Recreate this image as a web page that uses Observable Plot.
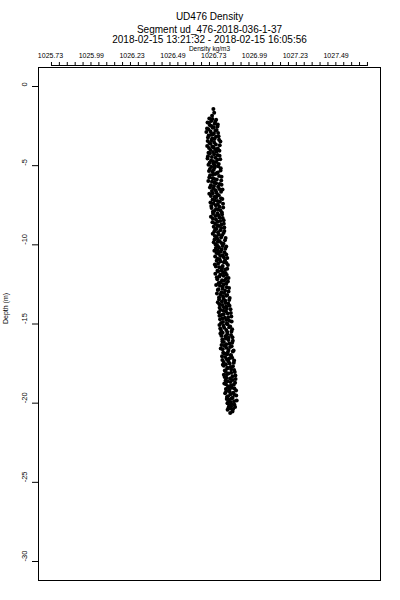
<!DOCTYPE html>
<html>
<head>
<meta charset="utf-8">
<script src="https://cdn.jsdelivr.net/npm/d3@7"></script>
<script src="https://cdn.jsdelivr.net/npm/@observablehq/plot@0.6"></script>
<style>
  html, body { margin: 0; padding: 0; background: #fff; }
  #chart svg { display: block; }
</style>
</head>
<body>
<div id="chart"></div>
<script>
const titleLines = ["UD476 Density", "Segment ud_476-2018-036-1-37", "2018-02-15 13:21:32 - 2018-02-15 16:05:56"];
const xAxisTitle = "Density kg/m3";
const yAxisTitle = "Depth (m)";

const xTickValues = [1025.735, 1025.985, 1026.235, 1026.485, 1026.735, 1026.985, 1027.235, 1027.485];
const xTickLabels = ["1025.73", "1025.99", "1026.23", "1026.49", "1026.73", "1026.99", "1027.23", "1027.49"];
const yTickValues = [0, -5, -10, -15, -20, -25, -30];

// first set of samples
const depth = [
  -1.42, -1.85, -2.02, -2.10, -2.18, -2.27, -2.35, -2.44, -2.53, -2.61, -2.70, -2.79, -2.88, -2.97,
  -3.05, -3.14, -3.22, -3.31, -3.40, -3.48, -3.57, -3.66, -3.75, -3.83, -3.92,
  -4.01, -4.10, -4.19, -4.28, -4.37, -4.45, -4.54, -4.63, -4.72, -4.81, -4.90, -4.98,
  -5.07, -5.16, -5.25, -5.34, -5.43, -5.52, -5.61, -5.70, -5.79, -5.88, -5.97,
  -6.06, -6.15, -6.24, -6.33, -6.42, -6.51, -6.60, -6.69, -6.78, -6.87, -6.96,
  -7.05, -7.14, -7.23, -7.32, -7.41, -7.50, -7.59, -7.68, -7.77, -7.86, -7.95,
  -8.04, -8.13, -8.22, -8.31, -8.40, -8.49, -8.58, -8.67, -8.76, -8.85, -8.94,
  -9.03, -9.12, -9.21, -9.30, -9.39, -9.48, -9.57, -9.66, -9.75, -9.84, -9.93,
  -10.02, -10.11, -10.20, -10.29, -10.38, -10.47, -10.56, -10.65, -10.74, -10.83, -10.92,
  -11.01, -11.10, -11.19, -11.28, -11.37, -11.46, -11.55, -11.64, -11.73, -11.82, -11.91,
  -12.00, -12.09, -12.18, -12.27, -12.36, -12.45, -12.54, -12.63, -12.72, -12.81, -12.90, -12.99,
  -13.08, -13.17, -13.26, -13.35, -13.44, -13.53, -13.62, -13.71, -13.80, -13.89, -13.98,
  -14.07, -14.16, -14.25, -14.34, -14.43, -14.52, -14.61, -14.70, -14.79, -14.88, -14.97,
  -15.06, -15.15, -15.24, -15.33, -15.42, -15.51, -15.60, -15.69, -15.78, -15.87, -15.96,
  -16.05, -16.14, -16.23, -16.32, -16.41, -16.50, -16.59, -16.68, -16.77, -16.86, -16.95,
  -17.04, -17.13, -17.22, -17.31, -17.40, -17.49, -17.58, -17.67, -17.76, -17.85, -17.94,
  -18.03, -18.12, -18.21, -18.30, -18.39, -18.48, -18.57, -18.66, -18.75, -18.84, -18.93,
  -19.02, -19.11, -19.20, -19.29, -19.38, -19.47, -19.56, -19.65, -19.74, -19.83, -19.92,
  -20.01, -20.10, -20.19, -20.28, -20.37, -20.62
];

const density = [
  1026.733, 1026.725, 1026.708, 1026.750, 1026.720, 1026.697, 1026.741, 1026.712, 1026.758, 1026.729, 1026.703, 1026.745, 1026.690, 1026.736,
  1026.718, 1026.765, 1026.700, 1026.740, 1026.722, 1026.776, 1026.709, 1026.748, 1026.695, 1026.733, 1026.760,
  1026.716, 1026.752, 1026.703, 1026.738, 1026.771, 1026.724, 1026.697, 1026.757, 1026.731, 1026.710, 1026.766, 1026.742,
  1026.720, 1026.778, 1026.735, 1026.706, 1026.760, 1026.744, 1026.713, 1026.783, 1026.729, 1026.754, 1026.702,
  1026.740, 1026.771, 1026.718, 1026.762, 1026.733, 1026.789, 1026.724, 1026.752, 1026.708, 1026.766, 1026.741,
  1026.779, 1026.728, 1026.758, 1026.715, 1026.792, 1026.747, 1026.770, 1026.722, 1026.761, 1026.738, 1026.785,
  1026.731, 1026.764, 1026.718, 1026.790, 1026.749, 1026.775, 1026.727, 1026.797, 1026.756, 1026.735, 1026.781,
  1026.744, 1026.800, 1026.761, 1026.729, 1026.786, 1026.752, 1026.808, 1026.740, 1026.771, 1026.735, 1026.795,
  1026.756, 1026.812, 1026.748, 1026.783, 1026.739, 1026.801, 1026.765, 1026.790, 1026.744, 1026.818, 1026.772,
  1026.753, 1026.797, 1026.762, 1026.822, 1026.748, 1026.786, 1026.805, 1026.758, 1026.793, 1026.745, 1026.815,
  1026.770, 1026.826, 1026.757, 1026.799, 1026.778, 1026.812, 1026.750, 1026.790, 1026.829, 1026.764, 1026.805, 1026.782,
  1026.755, 1026.818, 1026.792, 1026.833, 1026.768, 1026.806, 1026.760, 1026.824, 1026.787, 1026.812, 1026.771,
  1026.838, 1026.795, 1026.766, 1026.821, 1026.782, 1026.843, 1026.803, 1026.774, 1026.830, 1026.792, 1026.815,
  1026.770, 1026.836, 1026.799, 1026.848, 1026.781, 1026.818, 1026.776, 1026.841, 1026.807, 1026.826, 1026.788,
  1026.852, 1026.797, 1026.831, 1026.783, 1026.845, 1026.812, 1026.790, 1026.857, 1026.822, 1026.801, 1026.839,
  1026.786, 1026.848, 1026.815, 1026.860, 1026.796, 1026.833, 1026.791, 1026.853, 1026.819, 1026.842, 1026.803,
  1026.864, 1026.826, 1026.797, 1026.850, 1026.813, 1026.869, 1026.808, 1026.838, 1026.800, 1026.858, 1026.829,
  1026.846, 1026.810, 1026.872, 1026.834, 1026.805, 1026.861, 1026.823, 1026.851, 1026.815, 1026.876, 1026.838,
  1026.819, 1026.862, 1026.841, 1026.826, 1026.854, 1026.836
];

// second set of samples
const depth2 = [
  -1.65, -2.06, -2.22, -2.31, -2.40, -2.49, -2.57, -2.66, -2.75, -2.84, -2.93,
  -3.01, -3.10, -3.18, -3.27, -3.36, -3.44, -3.53, -3.62, -3.71, -3.79, -3.88, -3.96,
  -4.05, -4.14, -4.23, -4.32, -4.41, -4.50, -4.59, -4.68, -4.77, -4.86, -4.94,
  -5.03, -5.12, -5.21, -5.30, -5.39, -5.48, -5.57, -5.66, -5.75, -5.84, -5.93,
  -6.02, -6.11, -6.20, -6.29, -6.38, -6.47, -6.56, -6.65, -6.74, -6.83, -6.92,
  -7.01, -7.10, -7.19, -7.28, -7.37, -7.46, -7.55, -7.64, -7.73, -7.82, -7.91,
  -8.00, -8.09, -8.18, -8.27, -8.36, -8.45, -8.54, -8.63, -8.72, -8.81, -8.90, -8.99,
  -9.08, -9.17, -9.26, -9.35, -9.44, -9.53, -9.62, -9.71, -9.80, -9.89, -9.98,
  -10.07, -10.16, -10.25, -10.34, -10.43, -10.52, -10.61, -10.70, -10.79, -10.88, -10.97,
  -11.06, -11.15, -11.24, -11.33, -11.42, -11.51, -11.60, -11.69, -11.78, -11.87, -11.96,
  -12.05, -12.14, -12.23, -12.32, -12.41, -12.50, -12.59, -12.68, -12.77, -12.86, -12.95,
  -13.04, -13.13, -13.22, -13.31, -13.40, -13.49, -13.58, -13.67, -13.76, -13.85, -13.94,
  -14.03, -14.12, -14.21, -14.30, -14.39, -14.48, -14.57, -14.66, -14.75, -14.84, -14.93,
  -15.02, -15.11, -15.20, -15.29, -15.38, -15.47, -15.56, -15.65, -15.74, -15.83, -15.92,
  -16.01, -16.10, -16.19, -16.28, -16.37, -16.46, -16.55, -16.64, -16.73, -16.82, -16.91,
  -17.00, -17.09, -17.18, -17.27, -17.36, -17.45, -17.54, -17.63, -17.72, -17.81, -17.90, -17.99,
  -18.08, -18.17, -18.26, -18.35, -18.44, -18.53, -18.62, -18.71, -18.80, -18.89, -18.98,
  -19.07, -19.16, -19.25, -19.34, -19.43, -19.52, -19.61, -19.70, -19.79, -19.88, -19.97,
  -20.06, -20.15, -20.24, -20.33, -20.42, -20.52
];

const density2 = [
  1026.738, 1026.727, 1026.744, 1026.706, 1026.760, 1026.722, 1026.735, 1026.694, 1026.753, 1026.716, 1026.762,
  1026.731, 1026.704, 1026.749, 1026.726, 1026.768, 1026.698, 1026.738, 1026.715, 1026.772, 1026.727, 1026.706, 1026.745,
  1026.770, 1026.731, 1026.712, 1026.759, 1026.700, 1026.746, 1026.775, 1026.719, 1026.750, 1026.733, 1026.703,
  1026.762, 1026.741, 1026.712, 1026.777, 1026.727, 1026.752, 1026.730, 1026.768, 1026.708, 1026.739, 1026.781,
  1026.724, 1026.750, 1026.783, 1026.737, 1026.712, 1026.769, 1026.746, 1026.780, 1026.729, 1026.757, 1026.718,
  1026.750, 1026.788, 1026.741, 1026.773, 1026.733, 1026.760, 1026.720, 1026.793, 1026.749, 1026.776, 1026.730,
  1026.758, 1026.786, 1026.745, 1026.770, 1026.730, 1026.796, 1026.760, 1026.742, 1026.782, 1026.767, 1026.800, 1026.752,
  1026.776, 1026.738, 1026.795, 1026.766, 1026.742, 1026.780, 1026.757, 1026.804, 1026.760, 1026.782, 1026.746,
  1026.790, 1026.767, 1026.806, 1026.760, 1026.778, 1026.752, 1026.812, 1026.775, 1026.797, 1026.758, 1026.804,
  1026.776, 1026.813, 1026.742, 1026.790, 1026.769, 1026.818, 1026.781, 1026.762, 1026.808, 1026.776, 1026.795,
  1026.754, 1026.810, 1026.786, 1026.822, 1026.765, 1026.795, 1026.773, 1026.815, 1026.790, 1026.760, 1026.826,
  1026.799, 1026.778, 1026.812, 1026.768, 1026.795, 1026.830, 1026.785, 1026.806, 1026.770, 1026.832, 1026.797,
  1026.815, 1026.777, 1026.810, 1026.840, 1026.796, 1026.770, 1026.824, 1026.788, 1026.812, 1026.845, 1026.780,
  1026.820, 1026.795, 1026.830, 1026.775, 1026.812, 1026.844, 1026.790, 1026.818, 1026.782, 1026.850, 1026.809,
  1026.825, 1026.788, 1026.848, 1026.812, 1026.800, 1026.835, 1026.778, 1026.826, 1026.852, 1026.793, 1026.818,
  1026.842, 1026.805, 1026.830, 1026.788, 1026.825, 1026.858, 1026.810, 1026.797, 1026.838, 1026.818, 1026.860, 1026.808,
  1026.842, 1026.816, 1026.868, 1026.802, 1026.835, 1026.852, 1026.820, 1026.866, 1026.810, 1026.842, 1026.822,
  1026.862, 1026.830, 1026.812, 1026.855, 1026.838, 1026.873, 1026.816, 1026.845, 1026.828, 1026.860, 1026.822,
  1026.846, 1026.830, 1026.866, 1026.838, 1026.820, 1026.850
];

const points = depth.map((d, i) => ({depth: d, density: density[i]}))
  .concat(depth2.map((d, i) => ({depth: d, density: density2[i]})));

// minor tick marks along the top density axis
const minorTicks = d3.range(41).map(i => 1025.741 + i * 0.0484);

const font = "'Liberation Sans', Arial, sans-serif";

const chart = Plot.plot({
  width: 400,
  height: 600,
  marginLeft: 38,
  marginRight: 20,
  marginTop: 67,
  marginBottom: 20,
  style: {fontFamily: font, background: "#fff", color: "#000"},
  x: {domain: [1025.6615, 1027.757], axis: null},
  y: {domain: [-31.2, 1.2], axis: null},
  marks: [
    Plot.frame({stroke: "#000", strokeWidth: 1}),
    // top density axis: baseline + minor ticks + labels
    Plot.ruleY([1.2], {x1: minorTicks[0], x2: minorTicks[minorTicks.length - 1], dy: -2, stroke: "#000"}),
    Plot.axisX({anchor: "top", ticks: minorTicks, tickSize: 4, tickFormat: () => "", label: null, dy: -2, stroke: "#000"}),
    Plot.text(xTickValues, {x: d => d, text: (d, i) => xTickLabels[i], frameAnchor: "top", lineAnchor: "middle", dy: -11.5, fontSize: 7, fill: "#000"}),
    Plot.text([xAxisTitle], {frameAnchor: "top", lineAnchor: "middle", dy: -19, fontSize: 6.5, fill: "#000"}),
    // titles
    Plot.text([titleLines[0]], {frameAnchor: "top", lineAnchor: "middle", dy: -51, fontSize: 10, fill: "#000"}),
    Plot.text([titleLines[1]], {frameAnchor: "top", lineAnchor: "middle", dy: -38, fontSize: 10, fill: "#000"}),
    Plot.text([titleLines[2]], {frameAnchor: "top", lineAnchor: "middle", dy: -28, fontSize: 10, fill: "#000"}),
    // left depth axis
    Plot.axisY({ticks: yTickValues, tickSize: 6, tickFormat: () => "", label: null, stroke: "#000"}),
    Plot.text(yTickValues, {y: d => d, text: d => String(d), frameAnchor: "left", dx: -14, rotate: -90, fontSize: 7.5, fill: "#000"}),
    Plot.text([yAxisTitle], {frameAnchor: "left", dx: -33, rotate: -90, fontSize: 7, fill: "#000"}),
    // data
    Plot.dot(points, {x: "density", y: "depth", r: 2, fill: "#000", stroke: "none"})
  ]
});

document.getElementById("chart").appendChild(chart);
</script>
</body>
</html>
